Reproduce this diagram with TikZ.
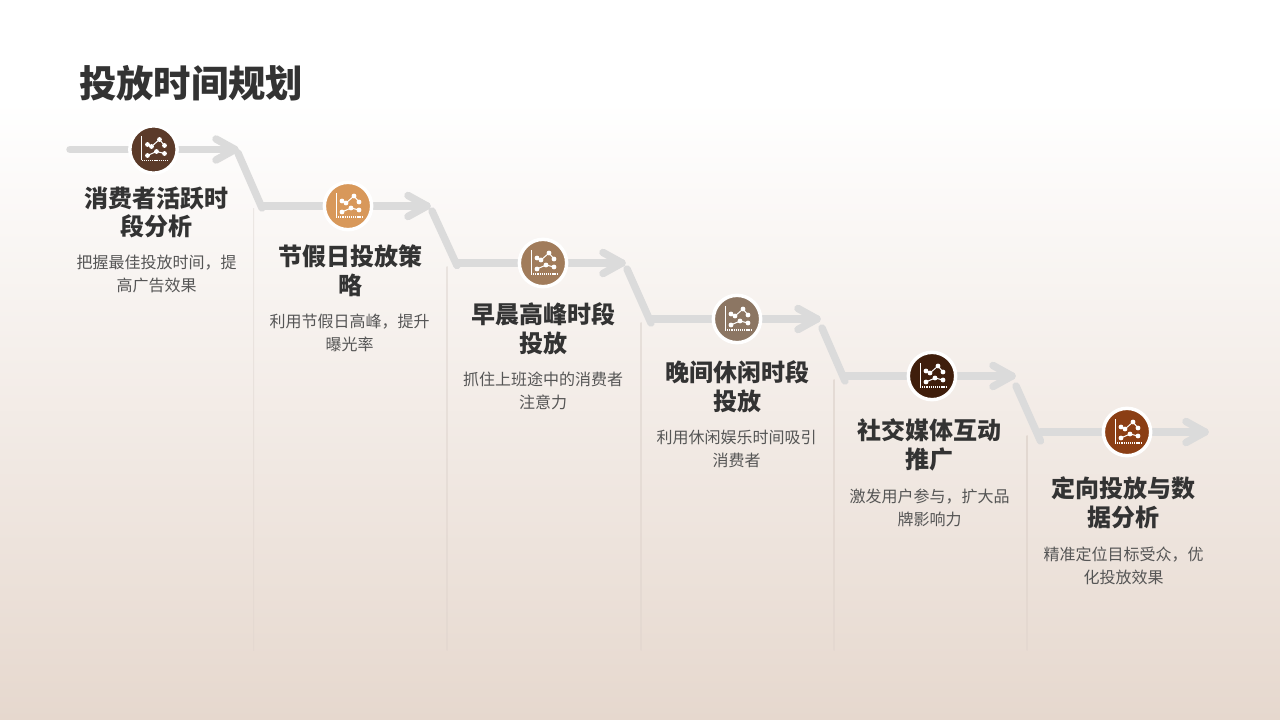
\documentclass[tikz,border=0pt]{standalone}
\usepackage{fontspec}
\setmainfont{Noto Sans CJK SC}
\usetikzlibrary{calc}
\definecolor{bgtop}{HTML}{FFFFFF}
\definecolor{bgbot}{HTML}{E6D8CE}
\definecolor{flowgray}{HTML}{DBDBDB}
\definecolor{titlegray}{HTML}{333333}
\definecolor{descgray}{HTML}{555555}
\definecolor{cA}{HTML}{5B3A29}
\definecolor{cB}{HTML}{D8985A}
\definecolor{cC}{HTML}{A17C5B}
\definecolor{cD}{HTML}{8C7663}
\definecolor{cE}{HTML}{3F1E0C}
\definecolor{cF}{HTML}{8B3E14}
\definecolor{sepA}{HTML}{EBE7E4}
\definecolor{sepB}{HTML}{E9E3DF}
\definecolor{sepC}{HTML}{E6DFDA}
\definecolor{sepD}{HTML}{E4DBD5}
\definecolor{sepE}{HTML}{E2D8D1}
\definecolor{sepend}{HTML}{E4D8D0}
\pgfdeclareverticalshading{bgshade}{100bp}{
  color(0bp)=(bgbot); color(25bp)=(bgbot); color(68bp)=(bgtop); color(100bp)=(bgtop)}
\tikzset{
  flow/.style={draw=flowgray,line width=5.6pt,line cap=round,line join=round},
  badge/.style={circle,draw=white,line width=2.6pt,minimum size=35.5pt,inner sep=0pt},
  headtext/.style={font=\fontsize{18}{21.6}\selectfont\bfseries,text=titlegray,align=center,inner sep=0pt},
  desctext/.style={font=\fontsize{12}{17.25}\selectfont,text=descgray,align=center,inner sep=0pt},
  titletext/.style={font=\fontsize{28}{32}\selectfont\bfseries,text=titlegray,inner sep=0pt},
  iconline/.style={draw=white,line width=0.75pt},
  icondot/.style={fill=white,draw=none}
}
\newcommand{\chartglyph}[1]{%
  \begin{scope}[shift={(#1)}]
    \draw[iconline] (-12,-13) -- (-12,11);
    \draw[iconline,line width=1.1pt,dash pattern=on 0.9pt off 0.7pt] (-12,11) -- (14,11);
    \draw[iconline] (-6,-5) -- (-2,-3) -- (6,-10) -- (11,-4);
    \draw[iconline] (-6,6) -- (3,2) -- (11,4);
    \foreach \p in {(-6,-5),(-2,-3),(6,-10),(11,-4),(-6,6),(3,2),(11,4)}
      \fill[icondot] \p circle (2.4);
  \end{scope}}
\newcommand{\arrowhead}[1]{%
  \draw[flow] ($(#1)+(-19,-10.5)$) -- (#1) -- ($(#1)+(-19,10.5)$);}
\newcommand{\separator}[3]{%
  \shade[top color=#3,bottom color=sepend] (#1-0.5,#2) rectangle (#1+0.5,650);}
\begin{document}
\begin{tikzpicture}[x=0.75pt,y=-0.75pt]
\useasboundingbox (0,0) rectangle (1280,720);
\shade[shading=bgshade] (0,0) rectangle (1280,720);

\separator{253.5}{209}{sepA}
\separator{447}{266}{sepB}
\separator{641}{322}{sepC}
\separator{834}{379}{sepD}
\separator{1027}{435}{sepE}

\coordinate (s1) at (70,149.5);
\coordinate (t1) at (235,149.5);
\coordinate (u2) at (238,153);
\coordinate (d2) at (262,208);
\coordinate (s2) at (262,206);
\coordinate (t2) at (427,206);
\coordinate (u3) at (432,211);
\coordinate (d3) at (457,265.5);
\coordinate (s3) at (457,263);
\coordinate (t3) at (622,263);
\coordinate (u4) at (627,269);
\coordinate (d4) at (651,323);
\coordinate (s4) at (651,319);
\coordinate (t4) at (817,319);
\coordinate (u5) at (822,328);
\coordinate (d5) at (845,381);
\coordinate (s5) at (845,376);
\coordinate (t5) at (1012,376);
\coordinate (u6) at (1016,386);
\coordinate (d6) at (1040.5,441);
\coordinate (s6) at (1040.5,432);
\coordinate (t6) at (1205,432);

\draw[flow] (s1) -- (t1); \arrowhead{t1}
\draw[flow] (u2) -- (d2); \draw[flow] (s2) -- (t2); \arrowhead{t2}
\draw[flow] (u3) -- (d3); \draw[flow] (s3) -- (t3); \arrowhead{t3}
\draw[flow] (u4) -- (d4); \draw[flow] (s4) -- (t4); \arrowhead{t4}
\draw[flow] (u5) -- (d5); \draw[flow] (s5) -- (t5); \arrowhead{t5}
\draw[flow] (u6) -- (d6); \draw[flow] (s6) -- (t6); \arrowhead{t6}

\node[badge,fill=cA] (c1) at (153.5,149.5) {}; \chartglyph{c1}
\node[badge,fill=cB] (c2) at (348,206) {}; \chartglyph{c2}
\node[badge,fill=cC] (c3) at (543,263) {}; \chartglyph{c3}
\node[badge,fill=cD] (c4) at (737,319) {}; \chartglyph{c4}
\node[badge,fill=cE] (c5) at (932,376) {}; \chartglyph{c5}
\node[badge,fill=cF] (c6) at (1127,432) {}; \chartglyph{c6}

\node[titletext] (title) at (191,83) {投放时间规划};

\node[headtext] (h1) at (156,212.5) {消费者活跃时\\段分析};
\node[desctext] (p1) at (156.5,274) {把握最佳投放时间，提\\高广告效果};
\node[headtext] (h2) at (350,270.5) {节假日投放策\\略};
\node[desctext] (p2) at (349.5,332.5) {利用节假日高峰，提升\\曝光率};
\node[headtext] (h3) at (543,328.5) {早晨高峰时段\\投放};
\node[desctext] (p3) at (543,390.5) {抓住上班途中的消费者\\注意力};
\node[headtext] (h4) at (737,386.5) {晚间休闲时段\\投放};
\node[desctext] (p4) at (736.5,449) {利用休闲娱乐时间吸引\\消费者};
\node[headtext] (h5) at (929,444.5) {社交媒体互动\\推广};
\node[desctext] (p5) at (929.5,507.5) {激发用户参与，扩大品\\牌影响力};
\node[headtext] (h6) at (1123,502.5) {定向投放与数\\据分析};
\node[desctext] (p6) at (1123.5,565.5) {精准定位目标受众，优\\化投放效果};
\end{tikzpicture}
\end{document}
